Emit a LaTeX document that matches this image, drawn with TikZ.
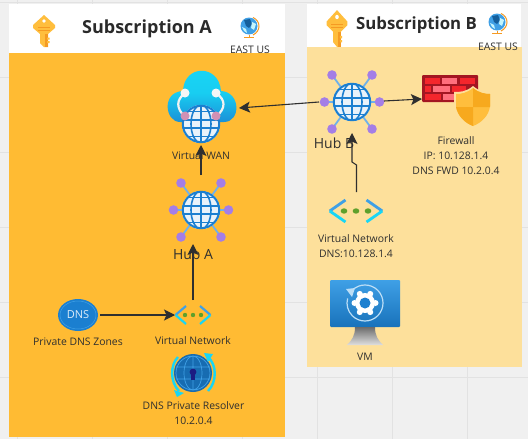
\documentclass[tikz,border=0pt]{standalone}
\usepackage{fontspec}
\setmainfont{Open Sans}
\usetikzlibrary{arrows.meta}
\definecolor{bgc}{HTML}{F0F0F0}
\definecolor{gridc}{HTML}{E2E2E2}
\definecolor{orangep}{HTML}{FFBB33}
\definecolor{paleo}{HTML}{FDE09B}
\definecolor{ink}{HTML}{2F2F2F}
\definecolor{azure}{HTML}{1B7FD0}
\definecolor{azureL}{HTML}{3FA0E6}
\definecolor{spoke}{HTML}{6FB1EA}
\definecolor{dotp}{HTML}{A47EE6}
\definecolor{cyanx}{HTML}{18D6F5}
\definecolor{keyc}{HTML}{FFBE3D}
\definecolor{keyd}{HTML}{F59A23}
\definecolor{brick}{HTML}{A31622}
\definecolor{brickr}{HTML}{F4262C}
\definecolor{brickp}{HTML}{FF6F7D}
\definecolor{dotg}{HTML}{5FA02B}
\tikzset{
  x=1pt,y=-1pt,
  lbl/.style={font=\fontsize{10.4}{15}\selectfont,text=ink,align=center,inner sep=0pt},
  hublbl/.style={font=\fontsize{14}{16}\selectfont,text=ink,inner sep=0pt},
  arr/.style={draw=ink,line width=1.1pt,-{Stealth[length=11pt,width=11pt,inset=2.5pt]}},
  pics/globe/.style={code={
    \fill[white] (0,0) circle (19);
    \begin{scope}
      \clip (0,0) circle (19);
      \fill[#1!10!white] (-19,-19) rectangle (19,19);
      \foreach \a in {-12.5,-4,4,12.5} \draw[azure,line width=1.6pt] (-19,\a) -- (19,\a);
      \draw[azure,line width=1.6pt] (0,-19) -- (0,19);
      \draw[azure,line width=1.6pt] (0,0) ellipse (10 and 19);
    \end{scope}
    \draw[azure,line width=2pt] (0,0) circle (18.2);
  }},
  pics/hubicon/.style={code={
    \foreach \p in {(-20,-27),(20,-27),(-27.5,0),(27.5,0),(-20,27),(20,27)}{
      \draw[spoke,line width=1.8pt] (0,0) -- \p;
    }
    \pic {globe=azure};
    \foreach \p in {(-20,-27),(20,-27),(-27.5,0),(27.5,0),(-20,27),(20,27)}{
      \fill[dotp] \p circle (4.8);
    }
  }},
  pics/keyicon/.style={code={
    \fill[keyc] (0,-16) -- (11,-6) -- (11,-3) -- (4,3) -- (4,16) -- (0,16) -- (-4,12) -- (-4,3) -- (-11,-3) -- (-11,-6) -- cycle;
    \fill[white] (0,-10) circle (1.9);
    \draw[keyd,line width=.9pt] (-6,-3.5) -- (6,-3.5) (-6,-1) -- (6,-1);
    \fill[keyd] (1,3) rectangle (4,16);
    \fill[keyc] (3,6.5) rectangle (5.5,8.5) (3,10) rectangle (5.5,12);
  }},
  pics/earth/.style={code={
    \draw[keyd,line width=1pt] (4,-8.5) .. controls (12,-5) and (12,5) .. (4,9);
    \fill[azureL] (0,0) circle (8.5);
    \fill[azure!75!black] (-5,-6) -- (1,-7) -- (3,-2) -- (0,2) -- (-3,0) -- cycle;
    \fill[white!75!cyanx] (3,-4) -- (7,-2) -- (5,4) -- (2,2) -- cycle;
    \fill[white!75!cyanx] (-7,1) -- (-3,3) -- (-2,7) -- (-5,5) -- cycle;
    \draw[keyd,line width=1pt] (0,8.5) -- (0,11);
    \draw[keyd,line width=1.3pt] (-5,11.5) -- (5,11.5);
  }},
  pics/vnetsmall/.style={code={
    \draw[azureL,line width=#1] (-7,-9) -- (-17.5,0);
    \draw[cyanx,line width=#1] (-17.5,0) -- (-7,9);
    \draw[azureL,line width=#1] (7,-9) -- (17.5,0);
    \draw[cyanx,line width=#1] (17.5,0) -- (7,9);
    \foreach \a in {-8,0,8} \fill[dotg] (\a,0) circle (2.2);
  }},
}
\begin{document}
\begin{tikzpicture}
\useasboundingbox (0,0) rectangle (528,439);
\fill[bgc] (0,0) rectangle (528,439);
\foreach \g in {17,92,167,242,317,392,467} \draw[gridc,line width=.8pt] (\g,0) -- (\g,439);
\foreach \g in {2,77,152,227,302,377} \draw[gridc,line width=.8pt] (0,\g) -- (528,\g);

% panels
\node[fill=white,inner sep=0pt,minimum width=276pt,minimum height=49pt,anchor=north west] (headA) at (9,4) {};
\node[fill=orangep,inner sep=0pt,minimum width=276pt,minimum height=384pt,anchor=north west] (bodyA) at (9,52.5) {};
\node[fill=white,inner sep=0pt,minimum width=214pt,minimum height=43pt,anchor=north west] (headB) at (307,4) {};
\node[fill=paleo,inner sep=0pt,minimum width=215pt,minimum height=320pt,anchor=north west] (bodyB) at (306.5,47) {};

% headers
\pic at (44,31) {keyicon};
\pic at (337,28.5) [yscale=1.15,xscale=.95] {keyicon};
\node[font=\bfseries\fontsize{18}{20}\selectfont,text=ink!90!black,inner sep=0pt] (titleA) at (147,28.5) {Subscription A};
\node[font=\bfseries\fontsize{16.8}{20}\selectfont,text=ink!90!black,inner sep=0pt] (titleB) at (416.5,25) {Subscription B};
\pic at (249,26) {earth};
\pic at (497,22) {earth};
\node[lbl] (eastA) at (250,50) {EAST US};
\node[lbl] (eastB) at (498,47) {EAST US};

% Virtual WAN
\shade[top color=cyanx,bottom color=azure!80!cyanx,middle color=cyanx!90!azure]
    (180,122) .. controls (165,122) and (161,92) .. (183,91)
    .. controls (184,64) and (219,64) .. (221,91)
    .. controls (241,92) and (241,122) .. (224,122) -- cycle;
\draw[white!90!gray,line width=2.2pt] (185,93) .. controls (176,100) and (176,108) .. (185,117);
\draw[white!90!gray,line width=2.2pt] (216,93) .. controls (226,100) and (226,108) .. (216,117);
\fill[white!93!gray] (185,93) circle (4.5) (216,93) circle (4.5);
\pic at (201,124) {globe=azure};
\fill[magenta!45!gray!70!white] (185,116) circle (4.5) (216,116) circle (4.5);
\coordinate (wanE) at (239,108);
\coordinate (wanS) at (201,145);
\node[lbl] (wanL) at (201,156) {Virtual WAN};

% Hub A
\pic at (201,210) {hubicon};
\coordinate (hubAN) at (201,175);
\coordinate (hubAS) at (193,244);
\node[hublbl] (hubAL) at (193,254) {Hub A};

% Hub B
\pic at (352,102) {hubicon};
\coordinate (hubBW) at (319,102);
\coordinate (hubBE) at (384,101);
\coordinate (hubBS) at (352,133);
\node[hublbl] (hubBL) at (334,143) {Hub B};

% Firewall
\fill[brick,rounded corners=1pt] (422,75) rectangle (478,102);
\foreach \x/\y/\w/\c in {425/78/15/brickr,442/78/15/brickp,460/78/15/brickr,
  425/86/6/brickr,433/86/17/brickp,452/86/14/brickr,
  425/94/16/brickr,443/94/14/brickp}{
  \fill[\c] (\x,\y) rectangle ++(\w,6);
}
\fill[paleo] (473,86) .. controls (466,92) and (460,92) .. (454,92) -- (454,106) .. controls (455,118) and (465,125) .. (473,128) .. controls (481,125) and (491,118) .. (492,106) -- (492,92) .. controls (486,92) and (480,92) .. (473,86) -- cycle;
\fill[keyc] (473,88) .. controls (467,93) and (461,94) .. (456,94) -- (456,106) .. controls (457,116) and (465,123) .. (473,126) .. controls (481,123) and (489,116) .. (490,106) -- (490,94) .. controls (485,94) and (479,93) .. (473,88) -- cycle;
\fill[keyd!85!yellow] (473,107) -- (456,107) .. controls (458,116) and (465,123) .. (473,126) -- cycle;
\fill[keyd!85!yellow] (473,107) -- (490,107) -- (490,94) .. controls (485,94) and (479,93) .. (473,88) -- cycle;
\coordinate (fwW) at (422,99);
\node[lbl] (fwL) at (456,156) {Firewall\\IP: 10.128.1.4\\DNS FWD 10.2.0.4};

% VNet B
\pic at (356,211) [xscale=1.5,yscale=1.22] {vnetsmall=2.8pt};
\coordinate (vnetBN) at (356.5,192);
\coordinate (bendA) at (356.5,165);
\coordinate (bendB) at (352,162);
\node[lbl] (vnetBL) at (356,246.5) {Virtual Network\\DNS:10.128.1.4};

% VM
\shade[top color=azureL,bottom color=azure!90!black,rounded corners=1pt] (330,280) rectangle (400,327);
\shade[top color=gray!85!black,bottom color=gray!25!white] (355,327) -- (375,327) .. controls (375,336) and (378,340) .. (383,345) -- (347,345) .. controls (352,340) and (355,336) .. (355,327) -- cycle;
\draw[white!65!azureL,line width=1.2pt] (365,303) ++(-135:18) arc (-135:195:18);
\fill[white] (365,303) circle (10);
\foreach \a in {0,60,...,300} \fill[white] (365,303) ++(\a:10.5) circle (3);
\fill[azure] (365,303) circle (5.5);
\fill[white!65!azureL] (346,289) -- (355,288) -- (352,297) -- cycle;
\node[lbl] (vmL) at (365,357) {VM};

% DNS zones
\fill[azure] (78,315) ellipse (20 and 16);
\draw[azureL,line width=.5pt] (78,315) ellipse (18 and 14);
\node[font=\fontsize{11}{12}\selectfont,text=white!85!azure,inner sep=0pt] (dnsT) at (78,315) {DNS};
\coordinate (dnsE) at (100,315);
\node[lbl] (dnsL) at (78,342) {Private DNS Zones};

% VNet A
\pic at (193,315) {vnetsmall=2.2pt};
\coordinate (vnetAW) at (175,315);
\coordinate (vnetAN) at (193,300);
\node[lbl] (vnetAL) at (193,341) {Virtual Network};

% Resolver
\fill[azure!85!black] (193,373) circle (19);
\draw[azureL,line width=.7pt] (193,373) circle (17) (193,373) ellipse (9 and 17) (176,367) -- (210,367) (176,379) -- (210,379) (193,356) -- (193,390);
\fill[ink!60!blue] (193,372) circle (3.4);
\fill[ink!60!blue] (191,373) rectangle (195,380);
\draw[cyanx,line width=2.4pt] (178,357) .. controls (170,365) and (170,382) .. (179,391);
\draw[cyanx,line width=2.4pt] (208,357) .. controls (217,365) and (217,382) .. (208,391);
\fill[cyanx] (204,353) -- (213,354) -- (208,362) -- cycle;
\fill[cyanx] (174,390) -- (184,393) -- (177,397) -- cycle;
\node[lbl] (resL) at (193.5,413.5) {DNS Private Resolver\\10.2.0.4};

% connectors
\draw[arr] (hubBW) -- (wanE);
\draw[arr] (hubAN) -- (wanS);
\draw[arr] (vnetAN) -- (hubAS);
\draw[arr] (dnsE) -- (vnetAW);
\draw[arr] (hubBE) -- (fwW);
\draw[arr] (vnetBN) -- (bendA) -- (bendB) -- (hubBS);
\end{tikzpicture}
\end{document}
